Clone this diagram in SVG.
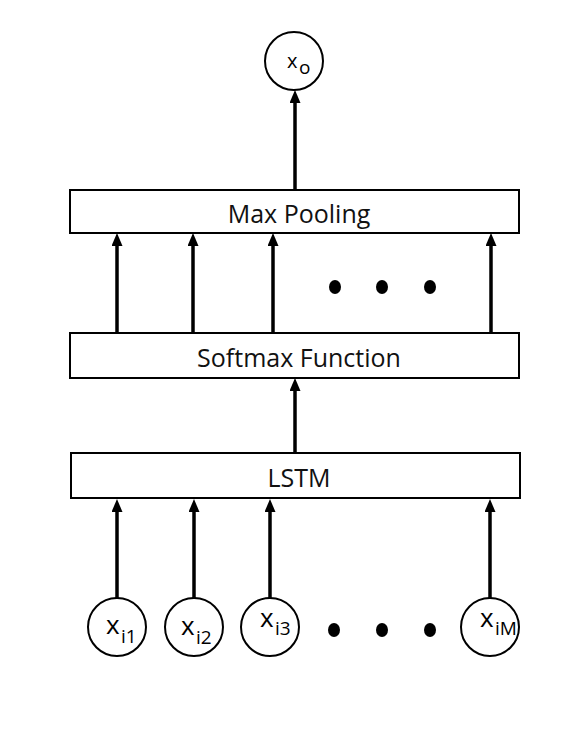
<svg xmlns="http://www.w3.org/2000/svg" width="582" height="738" viewBox="0 0 582 738">
<style>
.box{fill:#fff;stroke:#000;stroke-width:2}
.node{fill:#fff;stroke:#000;stroke-width:2}
.lbl{font-family:"Open Sans","Noto Sans",sans-serif;font-size:25px;fill:#111;text-anchor:middle}
.var{font-family:"Open Sans","Noto Sans",sans-serif;fill:#000}
.arr{stroke:#000;stroke-width:3.5;fill:none;marker-end:url(#ah)}
.dot{fill:#000}
</style>
<defs>
<marker id="ah" markerUnits="userSpaceOnUse" viewBox="0 0 13 11" markerWidth="13" markerHeight="11" refX="0" refY="5.5" orient="auto">
<path d="M0,0 L13,5.5 L0,11 z" fill="#000"/>
</marker>
</defs>
<rect width="582" height="738" fill="#fff"/>
<g id="connectors">
<line class="arr" x1="295" y1="190" x2="295" y2="103"/>
<line class="arr" x1="117" y1="333" x2="117" y2="246"/>
<line class="arr" x1="193" y1="333" x2="193" y2="246"/>
<line class="arr" x1="273" y1="333" x2="273" y2="246"/>
<line class="arr" x1="491" y1="333" x2="491" y2="246"/>
<line class="arr" x1="295" y1="453" x2="295" y2="391"/>
<line class="arr" x1="117" y1="598" x2="117" y2="512"/>
<line class="arr" x1="194" y1="598" x2="194" y2="512"/>
<line class="arr" x1="270" y1="598" x2="270" y2="512"/>
<line class="arr" x1="490" y1="598" x2="490" y2="512"/>
</g>
<g id="xo">
<circle class="node" cx="294" cy="61" r="29"/>
<text class="var" x="287" y="68" font-size="20">x</text>
<text class="var" x="299" y="74" font-size="19">o</text>
</g>
<g id="maxpool">
<rect class="box" x="70" y="190" width="449" height="43"/>
<text class="lbl" x="299" y="223">Max Pooling</text>
</g>
<g id="softmax">
<rect class="box" x="70" y="333" width="449" height="45"/>
<text class="lbl" x="299" y="367">Softmax Function</text>
</g>
<g id="lstm">
<rect class="box" x="71" y="453" width="449" height="45"/>
<text class="lbl" x="299" y="487">LSTM</text>
</g>
<g id="dots-top">
<ellipse class="dot" cx="335" cy="287" rx="6" ry="7"/>
<ellipse class="dot" cx="382" cy="287" rx="6" ry="7"/>
<ellipse class="dot" cx="430" cy="287" rx="6" ry="7"/>
</g>
<g id="xi1">
<circle class="node" cx="117" cy="627" r="29"/>
<text class="var" x="106" y="634" font-size="26">x</text>
<text class="var" x="121" y="643" font-size="19">i1</text>
</g>
<g id="xi2">
<circle class="node" cx="194" cy="627" r="29"/>
<text class="var" x="181" y="635" font-size="26">x</text>
<text class="var" x="196" y="644" font-size="19">i2</text>
</g>
<g id="xi3">
<circle class="node" cx="270" cy="627" r="29"/>
<text class="var" x="260" y="627" font-size="26">x</text>
<text class="var" x="275" y="635" font-size="19">i3</text>
</g>
<g id="dots-bottom">
<ellipse class="dot" cx="334" cy="630" rx="6" ry="7"/>
<ellipse class="dot" cx="382" cy="630" rx="6" ry="7"/>
<ellipse class="dot" cx="430" cy="630" rx="6" ry="7"/>
</g>
<g id="xiM">
<circle class="node" cx="490" cy="627" r="29"/>
<text class="var" x="480" y="627" font-size="26">x</text>
<text class="var" x="495" y="635" font-size="19">iM</text>
</g>
</svg>
